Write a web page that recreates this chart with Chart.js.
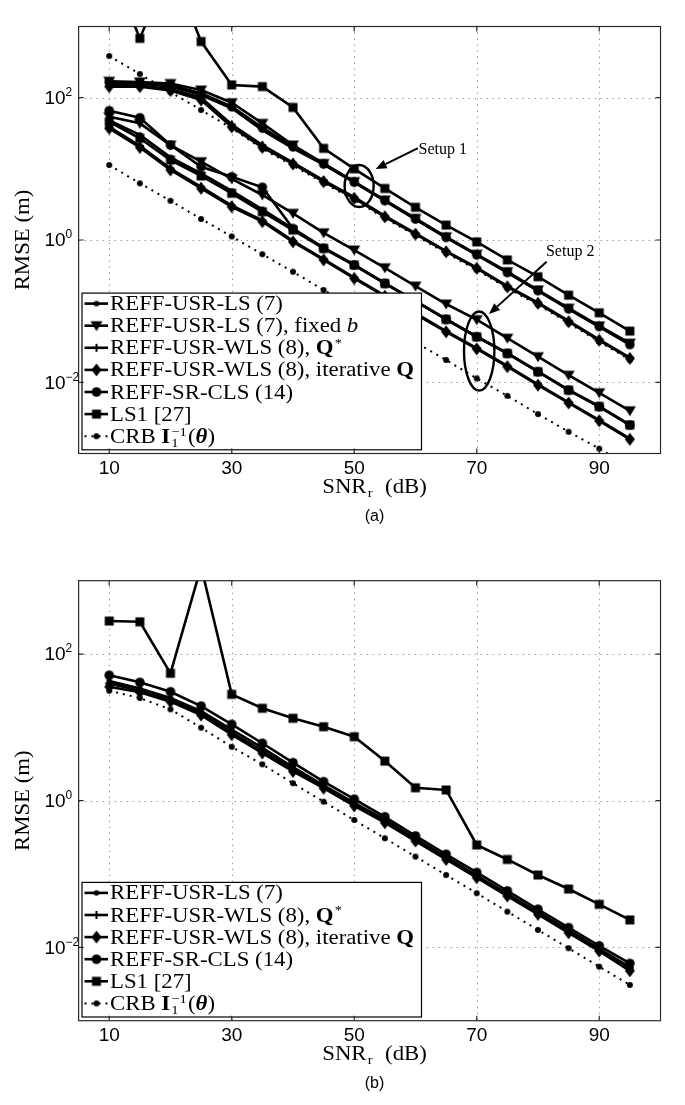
<!DOCTYPE html>
<html>
<head>
<meta charset="utf-8">
<script src="https://cdn.jsdelivr.net/npm/chart.js@4.4.0/dist/chart.umd.min.js"></script>
<style>
  html, body { margin: 0; padding: 0; background: #fff; }
  #page { position: relative; width: 685px; height: 1105px; overflow: hidden; }
  .panel { position: absolute; left: 0; width: 685px; }
</style>
</head>
<body>
<div id="page">
  <div class="panel" style="top:0;height:540px"><canvas id="chartA"></canvas></div>
  <div class="panel" style="top:540px;height:565px"><canvas id="chartB"></canvas></div>
</div>
<script>
// SNR_r axis (dB)
const snrDb = [10, 15, 20, 25, 30, 35, 40, 45, 50, 55, 60, 65, 70, 75, 80, 85, 90, 95];
const xTicks = [10, 30, 50, 70, 90];
const yTicks = [1e-2, 1, 1e2];

// (a) setup 1 (upper group), RMSE in m
const a1Ls      = [160, 158, 143, 109, 71, 35, 19.4, 11.5, 6.46, 3.55, 1.95, 1.08, 0.617, 0.347, 0.193, 0.107, 0.060, 0.034];
const a1FixedB  = [170, 166, 158, 128, 85, 43.6, 21.6, 11.9, 6.6, 3.63, 2.01, 1.11, 0.63, 0.358, 0.198, 0.11, 0.062, 0.0355];
const a1WlsQ    = [150, 148, 132, 100, 42, 21.5, 12.2, 6.9, 4.0, 2.18, 1.24, 0.70, 0.41, 0.225, 0.132, 0.073, 0.040, 0.0222];
const a1WlsIter = [143, 143, 126, 92.7, 38.9, 20, 11.7, 6.6, 3.85, 2.12, 1.21, 0.684, 0.40, 0.22, 0.129, 0.071, 0.039, 0.0217];
const a1SrCls   = [166, 162, 150, 115, 75, 38, 20.5, 11.7, 6.5, 3.58, 1.97, 1.09, 0.62, 0.35, 0.195, 0.108, 0.061, 0.034];
const a1LsOne   = [7800, 680, 7400, 615, 151, 143, 73, 19.4, 10.0, 5.3, 2.88, 1.62, 0.94, 0.525, 0.305, 0.168, 0.095, 0.0525];
const a1Crb     = [385, 215, 120, 67, 37.2, 19.1, 11.1, 6.31, 3.67, 2.03, 1.16, 0.653, 0.382, 0.21, 0.123, 0.0678, 0.0372, 0.0207];

// (a) setup 2 (lower group)
const a2Ls      = [48, 30, 14.5, 8.6, 4.9, 2.7, 1.45, 0.78, 0.45, 0.248, 0.14, 0.0775, 0.044, 0.0257, 0.0142, 0.0078, 0.0046, 0.00253];
const a2FixedB  = [54, 43.6, 21.6, 12.6, 7.24, 4.29, 2.37, 1.26, 0.723, 0.407, 0.225, 0.126, 0.0759, 0.0417, 0.0229, 0.0126, 0.00713, 0.00398];
const a2WlsQ    = [39, 21, 10.1, 5.6, 3.05, 1.88, 0.97, 0.54, 0.296, 0.166, 0.0935, 0.0525, 0.0302, 0.017, 0.00935, 0.00525, 0.00295, 0.00162];
const a2WlsIter = [37.1, 20, 9.62, 5.32, 2.93, 1.81, 0.944, 0.525, 0.288, 0.162, 0.0912, 0.0513, 0.0295, 0.0166, 0.00912, 0.00513, 0.00288, 0.00158];
const a2SrCls   = [65.6, 52.2, 21.6, 10.7, 7.74, 5.5, 1.45, 0.764, 0.445, 0.245, 0.138, 0.0767, 0.0437, 0.0255, 0.0141, 0.00776, 0.00457, 0.00251];
const a2LsOne   = [45.9, 26.9, 13.3, 7.94, 4.53, 2.49, 1.38, 0.764, 0.445, 0.245, 0.138, 0.0767, 0.0437, 0.0255, 0.0141, 0.00776, 0.00457, 0.00251];
const a2Crb     = [11.3, 6.25, 3.56, 1.97, 1.12, 0.631, 0.358, 0.198, 0.112, 0.063, 0.0363, 0.0206, 0.01135, 0.00646, 0.00358, 0.00202, 0.00117, 0.00066];

// (b)
const bLs      = [42.7, 33.9, 25.1, 16.6, 9.33, 5.25, 2.88, 1.62, 0.933, 0.55, 0.302, 0.17, 0.0955, 0.0537, 0.0302, 0.017, 0.00955, 0.00537];
const bWlsQ    = [39.8, 31.6, 23.4, 15.5, 8.51, 4.79, 2.69, 1.55, 0.891, 0.525, 0.295, 0.166, 0.0933, 0.0525, 0.0295, 0.0166, 0.00933, 0.00525];
const bWlsIter = [35.8, 30.1, 22.4, 14.7, 7.94, 4.47, 2.51, 1.48, 0.851, 0.501, 0.282, 0.158, 0.0891, 0.0501, 0.0282, 0.0158, 0.00891, 0.00479];
const bSrCls   = [51.3, 41.1, 30.6, 19.5, 11.0, 6.07, 3.3, 1.82, 1.05, 0.603, 0.331, 0.186, 0.105, 0.0589, 0.0331, 0.0186, 0.0105, 0.00603];
const bLsOne   = [282, 275, 54.6, 1550, 28.2, 18.2, 13.3, 10.2, 7.46, 3.47, 1.5, 1.4, 0.249, 0.158, 0.097, 0.0625, 0.0386, 0.0237];
const bCrb     = [31.6, 25.1, 17.6, 9.89, 5.44, 3.13, 1.73, 0.97, 0.546, 0.307, 0.173, 0.097, 0.0547, 0.0307, 0.0173, 0.00973, 0.00546, 0.00307];

// legend texts (runs: plain / bold / italic / sup-sub)
const lblLs      = [{t: 'REFF-USR-LS (7)'}];
const lblFixedB  = [{t: 'REFF-USR-LS (7), fixed '}, {t: 'b', f: 'italic'}];
const lblWlsQ    = [{t: 'REFF-USR-WLS (8), '}, {t: 'Q', f: 'bold'}, {sup: '*'}];
const lblWlsIter = [{t: 'REFF-USR-WLS (8), iterative '}, {t: 'Q', f: 'bold'}];
const lblSrCls   = [{t: 'REFF-SR-CLS (14)'}];
const lblLsOne   = [{t: 'LS1 [27]'}];
const lblCrb     = [{t: 'CRB '}, {t: 'I', f: 'bold'}, {sup: '\u22121', sub: '1'}, {t: '('}, {t: '\u03b8', f: 'italic bold'}, {t: ')'}];

const xTitle = [{t: 'SNR'}, {sub: 'r'}, {t: '  (dB)'}];
const yTitle = [{t: 'RMSE (m)'}];

const SERIF = '"Liberation Serif", "Times New Roman", serif';
const SANS = '"Liberation Sans", Arial, sans-serif';
const STRETCH = 1.14;

function makeMarker(kind) {
  const c = document.createElement('canvas');
  c.width = 16; c.height = 16;
  const g = c.getContext('2d');
  g.fillStyle = '#000'; g.strokeStyle = '#000';
  g.beginPath();
  if (kind === 'dot') g.arc(8, 8, 2.8, 0, 2 * Math.PI);
  else if (kind === 'circle') g.arc(8, 8, 4.8, 0, 2 * Math.PI);
  else if (kind === 'crb') g.arc(8, 8, 3, 0, 2 * Math.PI);
  else if (kind === 'square') g.rect(3.5, 3.5, 9, 9);
  else if (kind === 'triangle') { g.moveTo(2, 3.5); g.lineTo(14, 3.5); g.lineTo(8, 13.5); g.closePath(); }
  else if (kind === 'diamond') { g.moveTo(8, 1.5); g.lineTo(13, 8); g.lineTo(8, 14.5); g.lineTo(3, 8); g.closePath(); }
  if (kind === 'plus') {
    g.lineWidth = 2;
    g.moveTo(8, 4); g.lineTo(8, 12); g.moveTo(4, 8); g.lineTo(12, 8);
    g.stroke();
  } else {
    g.fill();
  }
  return c;
}
const MARKERS = {};
['dot', 'triangle', 'plus', 'diamond', 'circle', 'square', 'crb'].forEach(k => MARKERS[k] = makeMarker(k));

function series(arr, kind) {
  const crb = kind === 'crb';
  return {
    data: snrDb.map((s, i) => ({x: s, y: arr[i]})),
    borderColor: '#000',
    backgroundColor: '#000',
    borderWidth: crb ? 2 : 2.6,
    borderDash: crb ? [2, 5] : [],
    pointStyle: MARKERS[kind],
    pointRadius: 6,
    tension: 0,
    fill: false
  };
}

// draws text runs at baseline y, returns width
function drawRuns(ctx, runs, x, y, size, dry) {
  ctx.save();
  ctx.translate(x, y);
  ctx.scale(STRETCH, 1);
  ctx.textAlign = 'left';
  ctx.textBaseline = 'alphabetic';
  let cx = 0;
  const small = size * 0.64;
  for (const r of runs) {
    if (r.sup !== undefined || r.sub !== undefined) {
      let w = 0;
      ctx.font = `${small}px ${SERIF}`;
      if (r.sup) { if (!dry) ctx.fillText(r.sup, cx + 1, -size * 0.36); w = Math.max(w, ctx.measureText(r.sup).width); }
      if (r.sub) { if (!dry) ctx.fillText(r.sub, cx + 1, size * 0.2); w = Math.max(w, ctx.measureText(r.sub).width); }
      cx += w + 2;
    } else {
      ctx.font = `${r.f || ''} ${size}px ${SERIF}`;
      if (!dry) ctx.fillText(r.t, cx, 0);
      cx += ctx.measureText(r.t).width;
    }
  }
  ctx.restore();
  return cx * STRETCH;
}

const matlabPlot = {
  id: 'matlabPlot',
  beforeDatasetsDraw(chart) {
    const {ctx, chartArea: a, scales: {x, y}} = chart;
    ctx.save();
    ctx.strokeStyle = '#9a9a9a';
    ctx.lineWidth = 1;
    ctx.setLineDash([1.5, 4.5]);
    ctx.beginPath();
    xTicks.forEach(v => {
      const px = Math.round(x.getPixelForValue(v)) + 0.5;
      ctx.moveTo(px, a.top); ctx.lineTo(px, a.bottom);
    });
    yTicks.forEach(v => {
      const py = Math.round(y.getPixelForValue(v)) + 0.5;
      ctx.moveTo(a.left, py); ctx.lineTo(a.right, py);
    });
    ctx.stroke();
    ctx.restore();
  },
  afterDatasetsDraw(chart, args, opts) {
    const {ctx, chartArea: a, scales: {x, y}} = chart;
    ctx.save();
    ctx.fillStyle = '#000';
    ctx.strokeStyle = '#000';

    // setup annotations
    (opts.notes || []).forEach(n => {
      const cx = x.getPixelForValue(n.center[0]);
      const cy = y.getPixelForValue(n.center[1]);
      const rx = Math.abs(x.getPixelForValue(n.center[0] + n.rx) - cx);
      const ry = Math.abs(y.getPixelForValue(n.center[1] * Math.pow(10, n.ry)) - cy);
      ctx.lineWidth = 2.4;
      ctx.beginPath();
      ctx.ellipse(cx, cy, rx, ry, 0, 0, 2 * Math.PI);
      ctx.stroke();
      const tx = x.getPixelForValue(n.tail[0]), ty = y.getPixelForValue(n.tail[1]);
      const hx = x.getPixelForValue(n.head[0]), hy = y.getPixelForValue(n.head[1]);
      const ang = Math.atan2(hy - ty, hx - tx);
      const L = 11, W = 4.5;
      const bx = hx - L * Math.cos(ang), by = hy - L * Math.sin(ang);
      ctx.lineWidth = 2;
      ctx.beginPath(); ctx.moveTo(tx, ty); ctx.lineTo(bx, by); ctx.stroke();
      ctx.beginPath();
      ctx.moveTo(hx, hy);
      ctx.lineTo(bx + W * Math.sin(ang), by - W * Math.cos(ang));
      ctx.lineTo(bx - W * Math.sin(ang), by + W * Math.cos(ang));
      ctx.closePath(); ctx.fill();
      ctx.font = `16px ${SERIF}`;
      ctx.textAlign = 'left';
      ctx.textBaseline = 'middle';
      ctx.fillText(n.text, x.getPixelForValue(n.textAt[0]), y.getPixelForValue(n.textAt[1]));
    });

    // legend box
    const lg = opts.legend;
    const rowH = 22.1;
    const lh = lg.entries.length * rowH + 2;
    const lx = a.left + 3.4, lw = 339.5, ly = a.bottom - 3.7 - lh;
    ctx.fillStyle = '#fff';
    ctx.fillRect(lx, ly, lw, lh);
    ctx.strokeStyle = '#000';
    ctx.lineWidth = 1.2;
    ctx.strokeRect(lx, ly, lw, lh);
    ctx.fillStyle = '#000';
    lg.entries.forEach((e, i) => {
      const cy = ly + 10.5 + i * rowH;
      ctx.save();
      ctx.lineWidth = e.kind === 'crb' ? 2 : 2.6;
      ctx.setLineDash(e.kind === 'crb' ? [2, 5] : []);
      ctx.beginPath(); ctx.moveTo(lx + 2.5, cy); ctx.lineTo(lx + 26, cy); ctx.stroke();
      ctx.restore();
      const m = MARKERS[e.kind];
      ctx.drawImage(m, lx + 14.5 - 8, cy - 8);
      drawRuns(ctx, e.label, lx + 28, cy + 6.5, 20);
    });

    // frame and inner ticks
    ctx.strokeStyle = '#2b2b2b';
    ctx.lineWidth = 1.2;
    ctx.strokeRect(a.left, a.top, a.right - a.left, a.bottom - a.top);
    ctx.beginPath();
    xTicks.forEach(v => {
      const px = x.getPixelForValue(v);
      ctx.moveTo(px, a.bottom); ctx.lineTo(px, a.bottom - 5);
      ctx.moveTo(px, a.top); ctx.lineTo(px, a.top + 5);
    });
    yTicks.forEach(v => {
      const py = y.getPixelForValue(v);
      ctx.moveTo(a.left, py); ctx.lineTo(a.left + 5, py);
      ctx.moveTo(a.right, py); ctx.lineTo(a.right - 5, py);
    });
    ctx.stroke();

    // tick labels
    ctx.fillStyle = '#000';
    ctx.font = `19px ${SANS}`;
    ctx.textAlign = 'center';
    ctx.textBaseline = 'middle';
    xTicks.forEach(v => ctx.fillText(String(v), x.getPixelForValue(v), a.bottom + 15.5));
    yTicks.forEach(v => {
      const py = y.getPixelForValue(v);
      const e = Math.round(Math.log10(v));
      ctx.font = `19px ${SANS}`;
      ctx.textAlign = 'right';
      ctx.fillText('10', a.left - 13, py + 1);
      ctx.font = `12px ${SANS}`;
      ctx.textAlign = 'left';
      ctx.fillText(e < 0 ? '\u2212' + (-e) : String(e), a.left - 13, py - 5);
    });

    // axis titles
    const midX = (a.left + a.right) / 2 + 5;
    const tw = drawRuns(ctx, xTitle, 0, 0, 20, true);
    drawRuns(ctx, xTitle, midX - tw / 2, a.bottom + 39.5, 20);
    ctx.save();
    ctx.translate(29, (a.top + a.bottom) / 2);
    ctx.rotate(-Math.PI / 2);
    const yw = drawRuns(ctx, yTitle, 0, 0, 20, true);
    drawRuns(ctx, yTitle, -yw / 2, 0, 20);
    ctx.restore();

    ctx.font = `16px ${SANS}`;
    ctx.textAlign = 'center';
    ctx.textBaseline = 'middle';
    ctx.fillText(opts.panel, midX, a.bottom + 63);
    ctx.restore();
  }
};

function makeChart(id, datasets, setup) {
  return new Chart(document.getElementById(id), {
    type: 'line',
    data: {datasets},
    options: {
      responsive: true,
      maintainAspectRatio: false,
      animation: false,
      devicePixelRatio: 1,
      events: [],
      layout: {padding: setup.padding},
      scales: {
        x: {type: 'linear', min: 5, max: 100, display: false},
        y: {type: 'logarithmic', min: 0.001, max: 1000, display: false}
      },
      plugins: {
        legend: {display: false},
        tooltip: {enabled: false},
        matlabPlot: setup
      }
    },
    plugins: [matlabPlot]
  });
}

const setupNotes = [
  {text: 'Setup 1', textAt: [60.5, 18.4], tail: [60.4, 19.6], head: [53.5, 9.93], center: [50.8, 5.73], rx: 2.37, ry: 0.295},
  {text: 'Setup 2', textAt: [81.3, 0.676], tail: [81.4, 0.494], head: [72.0, 0.0912], center: [70.4, 0.0275], rx: 2.48, ry: 0.555}
];

// dataset 0 is painted last (on top), so the CRB curves go at the end
makeChart('chartA', [
  series(a1Ls, 'dot'), series(a2Ls, 'dot'),
  series(a1FixedB, 'triangle'), series(a2FixedB, 'triangle'),
  series(a1WlsQ, 'plus'), series(a2WlsQ, 'plus'),
  series(a1WlsIter, 'diamond'), series(a2WlsIter, 'diamond'),
  series(a1SrCls, 'circle'), series(a2SrCls, 'circle'),
  series(a1LsOne, 'square'), series(a2LsOne, 'square'),
  series(a1Crb, 'crb'), series(a2Crb, 'crb')
], {
  padding: {left: 78.6, right: 24.5, top: 26.5, bottom: 86.5},
  panel: '(a)',
  notes: setupNotes,
  legend: {entries: [
    {kind: 'dot', label: lblLs},
    {kind: 'triangle', label: lblFixedB},
    {kind: 'plus', label: lblWlsQ},
    {kind: 'diamond', label: lblWlsIter},
    {kind: 'circle', label: lblSrCls},
    {kind: 'square', label: lblLsOne},
    {kind: 'crb', label: lblCrb}
  ]}
});

makeChart('chartB', [
  series(bLs, 'dot'),
  series(bWlsQ, 'plus'),
  series(bWlsIter, 'diamond'),
  series(bSrCls, 'circle'),
  series(bLsOne, 'square'),
  series(bCrb, 'crb')
], {
  padding: {left: 78.6, right: 24.5, top: 40.7, bottom: 84.3},
  panel: '(b)',
  notes: [],
  legend: {entries: [
    {kind: 'dot', label: lblLs},
    {kind: 'plus', label: lblWlsQ},
    {kind: 'diamond', label: lblWlsIter},
    {kind: 'circle', label: lblSrCls},
    {kind: 'square', label: lblLsOne},
    {kind: 'crb', label: lblCrb}
  ]}
});
</script>
</body>
</html>
